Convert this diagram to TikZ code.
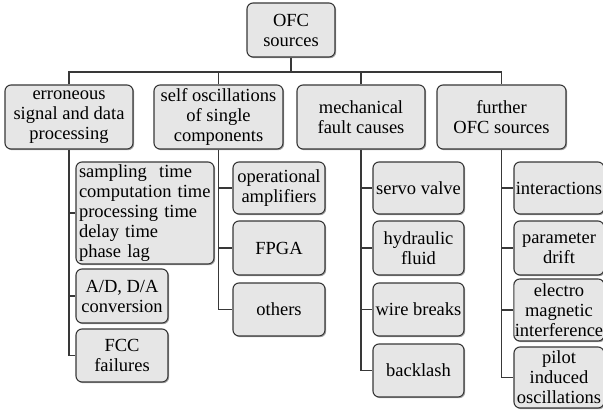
\documentclass[tikz,border=0pt]{standalone}
\usepackage{fontspec}
\setmainfont{Liberation Serif}
\usetikzlibrary{shadows}
\definecolor{boxfill}{HTML}{E6E6E6}
\definecolor{boxline}{HTML}{383838}
\begin{document}
\begin{tikzpicture}[x=1pt,y=-1pt,
  box/.style={draw=boxline, fill=boxfill, line width=1.1pt, rounded corners=6pt,
    align=center, inner sep=1pt, font=\fontsize{18.5}{20}\selectfont,
    drop shadow={shadow xshift=1.2pt, shadow yshift=-1.2pt, fill=black, opacity=0.35}},
  conn/.style={draw=boxline, line width=1.1pt}]
\useasboundingbox (0,0) rectangle (603,412);
\fill[white] (0,0) rectangle (603,412);
% root
\node[box, minimum width=88pt, minimum height=54pt] (root) at (291,30) {OFC\\sources};
% level 1
\node[box, minimum width=128pt, minimum height=64pt] (b1) at (69,117) {erroneous\\signal and data\\processing};
\node[box, minimum width=129pt, minimum height=64pt] (b2) at (218.5,117) {self oscillations\\of single\\components};
\node[box, minimum width=128pt, minimum height=64pt] (b3) at (361,117) {mechanical\\fault causes};
\node[box, minimum width=129pt, minimum height=64pt] (b4) at (501.5,117) {further\\OFC sources};
% column 1
\node[box, minimum width=138pt, minimum height=102pt, align=left, text width=132pt] (c1a) at (145,213) {sampling\ \ time\\computation time\\processing time\\delay time\\phase lag};
\node[box, minimum width=92pt, minimum height=54pt] (c1b) at (122,296) {A/D, D/A\\conversion};
\node[box, minimum width=92pt, minimum height=53pt] (c1c) at (122,355.5) {FCC\\failures};
% column 2
\node[box, minimum width=92pt, minimum height=52pt] (c2a) at (279,188) {operational\\amplifiers};
\node[box, minimum width=92pt, minimum height=54pt] (c2b) at (279,248) {FPGA};
\node[box, minimum width=92pt, minimum height=53pt] (c2c) at (279,309.5) {others};
% column 3
\node[box, minimum width=91pt, minimum height=52pt] (c3a) at (418.5,188) {servo valve};
\node[box, minimum width=91pt, minimum height=54pt] (c3b) at (418.5,248) {hydraulic\\fluid};
\node[box, minimum width=91pt, minimum height=53pt] (c3c) at (418.5,309.5) {wire breaks};
\node[box, minimum width=91pt, minimum height=53pt] (c3d) at (418.5,370.5) {backlash};
% column 4
\node[box, minimum width=90pt, minimum height=52pt] (c4a) at (559,188) {interactions};
\node[box, minimum width=90pt, minimum height=54pt] (c4b) at (559,248) {parameter\\drift};
\node[box, minimum width=90pt, minimum height=62pt] (c4c) at (559,310) {electro\\magnetic\\interference};
\node[box, minimum width=90pt, minimum height=61pt] (c4d) at (559,377.5) {pilot\\induced\\oscillations};
% connectors
\coordinate (bus) at (291,72);
\draw[conn] (root.south) -- (bus);
\draw[conn] (b1.north) |- (bus) -| (b4.north);
\draw[conn] (b2.north) -- (b2.north |- bus);
\draw[conn] (b3.north) -- (b3.north |- bus);
\draw[conn] (b1.south) |- (c1c.west);
\draw[conn] (b1.south |- c1a.west) -- (c1a.west);
\draw[conn] (b1.south |- c1b.west) -- (c1b.west);
\draw[conn] (b2.south) |- (c2c.west);
\draw[conn] (b2.south |- c2a.west) -- (c2a.west);
\draw[conn] (b2.south |- c2b.west) -- (c2b.west);
\draw[conn] (b3.south) |- (c3d.west);
\draw[conn] (b3.south |- c3a.west) -- (c3a.west);
\draw[conn] (b3.south |- c3b.west) -- (c3b.west);
\draw[conn] (b3.south |- c3c.west) -- (c3c.west);
\draw[conn] (b4.south) |- (c4d.west);
\draw[conn] (b4.south |- c4a.west) -- (c4a.west);
\draw[conn] (b4.south |- c4b.west) -- (c4b.west);
\draw[conn] (b4.south |- c4c.west) -- (c4c.west);
\end{tikzpicture}
\end{document}
